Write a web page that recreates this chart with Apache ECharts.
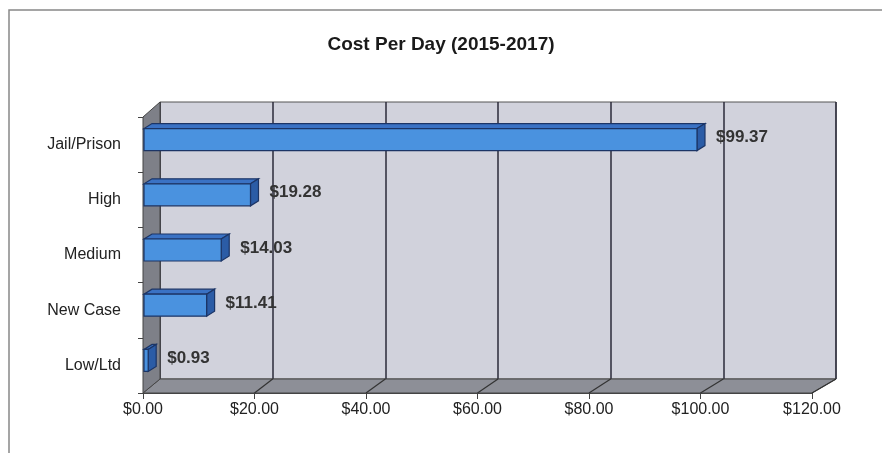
<!DOCTYPE html>
<html>
<head>
<meta charset="utf-8">
<script src="https://cdn.jsdelivr.net/npm/echarts@6/dist/echarts.min.js"></script>
<style>
  html, body { margin: 0; padding: 0; background: #fff; }
  #app { width: 882px; height: 453px; }
</style>
</head>
<body>
<div id="app"></div>
<script>
const categories = ['Jail/Prison', 'High', 'Medium', 'New Case', 'Low/Ltd']
const costs = [99.37, 19.28, 14.03, 11.41, 0.93]
const xTicks = [0, 20, 40, 60, 80, 100, 120]

const echart = echarts.init(document.getElementById('app'))

// plot box and depth of the fake 3d look
const G_LEFT = 143, G_RIGHT = 70, G_TOP = 117, G_BOTTOM = 60
const DX = 17, DY = 14
const BAR_H = 22, BDX = 8, BDY = 5

function money(v) {
  return '$' + v.toFixed(2)
}

function renderBar(params, api) {
  const v = api.value(0)
  const c = api.value(1)
  const p0 = api.coord([0, c])
  const p1 = api.coord([v, c])
  const x0 = p0[0] + 1, x1 = p1[0]
  const yt = p0[1] - BAR_H / 2 - 5, yb = yt + BAR_H
  const border = { stroke: '#1c3566', lineWidth: 1.2 }
  return {
    type: 'group',
    children: [
      {
        type: 'polygon',
        shape: { points: [[x0, yt], [x1, yt], [x1 + BDX, yt - BDY], [x0 + BDX, yt - BDY]] },
        style: Object.assign({ fill: '#3a72c4' }, border)
      },
      {
        type: 'polygon',
        shape: { points: [[x1, yt], [x1 + BDX, yt - BDY], [x1 + BDX, yb - BDY], [x1, yb]] },
        style: Object.assign({ fill: '#2b5ca6' }, border)
      },
      {
        type: 'rect',
        shape: { x: x0, y: yt, width: Math.max(x1 - x0, 1), height: BAR_H },
        style: Object.assign({ fill: '#4a92df' }, border)
      },
      {
        type: 'text',
        x: x1 + BDX + 11,
        y: (yt + yb) / 2 - 2,
        style: {
          text: money(v),
          fill: '#333',
          font: 'bold 17px "Liberation Sans", Arial, sans-serif',
          verticalAlign: 'middle'
        }
      }
    ]
  }
}

echart.setOption({
  animation: false,
  textStyle: {
    fontFamily: 'Liberation Sans, Arial, sans-serif'
  },
  title: {
    text: 'Cost Per Day (2015-2017)',
    left: 'center',
    top: 30,
    textStyle: {
      color: '#1a1a1a',
      fontSize: 19,
      fontWeight: 'bold'
    }
  },
  grid: [
    // front plane: axes + bars
    { left: G_LEFT, right: G_RIGHT, top: G_TOP, bottom: G_BOTTOM },
    // back wall
    {
      left: G_LEFT + DX, right: G_RIGHT - DX - 7, top: G_TOP - DY - 1, bottom: G_BOTTOM + DY,
      show: true,
      backgroundColor: '#d1d2dc',
      borderColor: '#555',
      borderWidth: 1
    }
  ],
  xAxis: [
    {
      type: 'value',
      gridIndex: 0,
      min: 0,
      max: 120,
      interval: 20,
      axisLine: { show: true, lineStyle: { color: '#444' } },
      axisTick: { show: true, length: 6, lineStyle: { color: '#444' } },
      splitLine: { show: false },
      axisLabel: {
        color: '#222',
        fontSize: 16,
        margin: 9,
        formatter(v) {
          return xTicks.indexOf(v) >= 0 ? money(v) : ''
        }
      }
    },
    {
      type: 'value',
      gridIndex: 1,
      min: 0,
      max: 120,
      interval: 20,
      axisLine: { show: false },
      axisTick: { show: false },
      axisLabel: { show: false },
      splitLine: { show: true, lineStyle: { color: '#2a2a3a', width: 1.5 } }
    }
  ],
  yAxis: [
    {
      type: 'category',
      gridIndex: 0,
      inverse: true,
      data: categories,
      axisLine: { show: false },
      axisTick: { show: true, length: 5, lineStyle: { color: '#444' } },
      axisLabel: {
        color: '#222',
        fontSize: 16,
        margin: 22
      }
    },
    {
      type: 'category',
      gridIndex: 1,
      inverse: true,
      data: categories,
      show: false
    }
  ],
  series: [
    {
      type: 'custom',
      xAxisIndex: 0,
      yAxisIndex: 0,
      z: 10,
      renderItem: renderBar,
      data: costs.map((v, i) => [v, i])
    }
  ]
})

// walls and floor of the 3d box, tied to the axis scales
const front = xTicks.map(t => echart.convertToPixel({ xAxisIndex: 0 }, t))
const back = xTicks.map(t => echart.convertToPixel({ xAxisIndex: 1 }, t))
const fTop = G_TOP
const fBot = 453 - G_BOTTOM
const bTop = G_TOP - DY - 1
const bBot = fBot - DY
const fx0 = front[0], fx1 = front[front.length - 1]
const bx0 = back[0], bx1 = back[back.length - 1]

const graphics = [
  {
    type: 'polyline',
    shape: { points: [[9, 453], [9, 10], [882, 10]] },
    style: { stroke: '#888', lineWidth: 1.5, fill: null }
  },
  {
    type: 'polygon',
    z: 1,
    shape: { points: [[fx0, fBot], [fx1, fBot], [bx1, bBot], [bx0, bBot]] },
    style: { fill: '#8d8f97', stroke: '#444', lineWidth: 1 }
  },
  {
    type: 'polygon',
    z: 1,
    shape: { points: [[fx0, fBot], [fx0, fTop], [bx0, bTop], [bx0, bBot]] },
    style: { fill: '#7e8088', stroke: '#444', lineWidth: 1 }
  }
]
front.forEach((x, i) => {
  if (i === 0) return
  graphics.push({
    type: 'line',
    z: 2,
    shape: { x1: x, y1: fBot, x2: back[i], y2: bBot },
    style: { stroke: '#333', lineWidth: 1.2 }
  })
})
echart.setOption({ graphic: graphics })
</script>
</body>
</html>
